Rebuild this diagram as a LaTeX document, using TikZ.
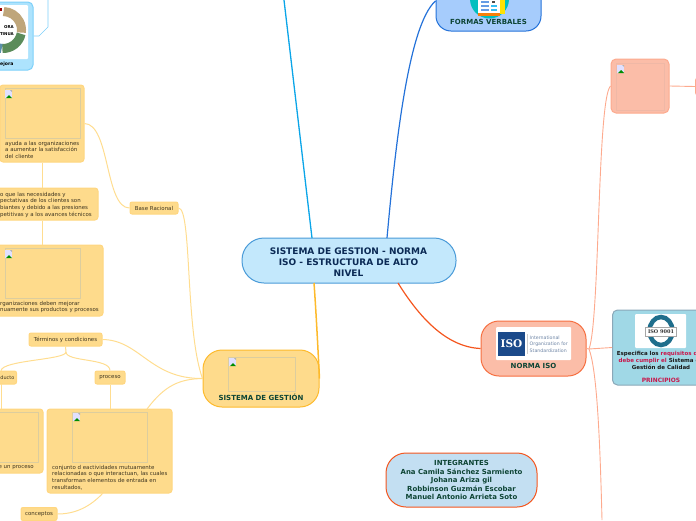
\documentclass[tikz,border=0pt]{standalone}
\usepackage{fontspec}
\setmainfont{DejaVu Sans}
\newfontfamily\logoserif{DejaVu Serif}
\usepackage{xcolor}
\usetikzlibrary{calc}
\definecolor{rootfill}{HTML}{C3E8FC}
\definecolor{rootline}{HTML}{4A9BD8}
\definecolor{navytext}{HTML}{0B2A55}
\definecolor{greentext}{HTML}{0D4434}
\definecolor{browntext}{HTML}{3D3420}
\definecolor{yellowfill}{HTML}{FEDB8C}
\definecolor{yellowline}{HTML}{FFD680}
\definecolor{yellowlink}{HTML}{FFDD90}
\definecolor{goldline}{HTML}{FDBA2C}
\definecolor{framegrey}{HTML}{DCCD9E}
\definecolor{salmonfill}{HTML}{FBBDA8}
\definecolor{salmonline}{HTML}{FDAA8E}
\definecolor{salmonframe}{HTML}{EFB8A6}
\definecolor{orangeline}{HTML}{F4561E}
\definecolor{skyfill}{HTML}{ADE3FD}
\definecolor{skyline}{HTML}{7DD0F9}
\definecolor{branchblue}{HTML}{0AA5E8}
\definecolor{verbfill}{HTML}{A6CCFC}
\definecolor{verbline}{HTML}{2472D9}
\definecolor{tealfill}{HTML}{A0D8E6}
\definecolor{tealline}{HTML}{8AA8B8}
\definecolor{crimson}{HTML}{C8174B}
\definecolor{teamfill}{HTML}{C3DFF2}
\definecolor{ringtan}{HTML}{BFA67A}
\definecolor{ringgreen}{HTML}{5B8C5A}
\definecolor{ringblue}{HTML}{5A8FAA}
\definecolor{isoblue}{HTML}{1B4A8A}
\definecolor{isogrey}{HTML}{6F86A6}
\definecolor{badgeteal}{HTML}{1F6E8C}
\tikzset{
  mapbox/.style={draw, inner sep=0pt, line width=1pt},
  yellowbox/.style={mapbox, fill=yellowfill, draw=yellowline, rounded corners=3pt},
  yellowtag/.style={yellowbox, rounded corners=2pt, text=browntext, font=\fontsize{5.45}{6.5}\selectfont},
  bodytxt/.style={inner sep=0pt, anchor=north west, align=left, text=browntext, font=\fontsize{5.45}{6.6}\selectfont},
  headtxt/.style={inner sep=0pt, align=center, text=greentext, font=\bfseries\fontsize{7}{8.4}\selectfont},
  yellowlnk/.style={yellowlink, line width=1pt},
  salmonlnk/.style={salmonline, line width=0.9pt},
  imgframe/.style={draw=framegrey, line width=0.8pt},
}
\newcommand{\brokenicon}[2]{
  \fill[white!88!blue] (#1,#2) rectangle ++(7,8);
  \fill[green!55!black] (#1+1,#2+8) -- ++(3,-3) -- ++(3,3) -- cycle;
  \fill[gray!60] (#1+5,#2) -- ++(2,0) -- ++(0,2) -- cycle;
}
\begin{document}
\begin{tikzpicture}[x=1pt, y=-1pt]
  \useasboundingbox (0,0) rectangle (696,520);
  \clip (0,0) rectangle (696,520);

  \coordinate (rootNW) at (312,238);
  \coordinate (rootNE) at (387,238);
  \coordinate (rootSW) at (314,283);
  \coordinate (rootSE) at (398,283);
  \coordinate (topfree) at (284,0);
  \coordinate (isohub) at (589,349);
  \coordinate (bottomfree) at (602,520);
  \coordinate (mejoraelbow) at (39,36);
  \coordinate (mejorabend) at (48,27);
  \coordinate (mejorafree) at (48,0);
  \coordinate (termsplit) at (66,352);
  \coordinate (procesoW) at (147,409);
  \coordinate (procesoS) at (103,493);
  \coordinate (ringcentre) at (3,30);

  % centre of the map and its four boxes
  \node[mapbox, fill=rootfill, draw=rootline, minimum width=214pt, minimum height=45pt, rounded corners=22pt] (root) at (349,260.5) {};
  \node[inner sep=0pt, align=center, text=navytext, font=\bfseries\fontsize{9}{11}\selectfont] (roottxt) at (348.5,262)
    {SISTEMA DE GESTION - NORMA\\ISO - ESTRUCTURA DE ALTO\\NIVEL};
  \node[mapbox, fill=yellowfill, draw=goldline, minimum width=116pt, minimum height=57pt, rounded corners=19pt] (sistema) at (261,378.5) {};
  \node[mapbox, fill=salmonfill, draw=orangeline!85!white, minimum width=105pt, minimum height=55pt, rounded corners=18pt] (norma) at (533.5,348.5) {};
  \node[mapbox, fill=verbfill, draw=verbline, minimum width=105pt, minimum height=60pt, rounded corners=15pt] (verbales) at (488.5,1) {};
  \node[mapbox, fill=teamfill, draw=orangeline, minimum width=151pt, minimum height=54pt, rounded corners=20pt, align=center,
    text=greentext, font=\bfseries\fontsize{6.95}{8.5}\selectfont] (team) at (461.5,480)
    {INTEGRANTES\\Ana Camila Sánchez Sarmiento\\Johana Ariza gil\\Robbinson Guzmán Escobar\\Manuel Antonio Arrieta Soto};

  \draw[orangeline, line width=1.2pt] (rootSE) .. controls (418,315) and (445,347) .. (norma.west);
  \draw[verbline, line width=1.2pt] (rootNE) .. controls (395,150) and (408,25) .. (verbales.west);
  \draw[goldline, line width=1.5pt] (rootSW) .. controls (316,310) and (318,350) .. (sistema.east);
  \draw[branchblue, line width=1.3pt] (rootNW) -- (topfree);

  % yellow side
  \node[yellowtag, minimum width=73pt, minimum height=13pt] (terminos) at (65.5,339.5) {Términos y condiciones};
  \node[yellowtag, minimum width=37pt, minimum height=13pt, anchor=east] (producto) at (17,377.5) {};
  \node[inner sep=0pt, anchor=west, text=browntext, font=\fontsize{4.9}{6.5}\selectfont] (productotxt) at (0.3,377.5) {ducto};
  \node[yellowtag, minimum width=30pt, minimum height=13pt] (proceso) at (110,377.5) {proceso};
  \node[yellowtag, minimum width=36pt, minimum height=13pt] (conceptos) at (39,514) {conceptos};
  \node[yellowtag, minimum width=48pt, minimum height=12pt] (base) at (154,208) {Base Racional};

  \node[yellowbox, minimum width=84pt, minimum height=77pt] (ayuda) at (42,123.5) {};
  \node[yellowbox, minimum width=110pt, minimum height=32pt] (debido) at (43,204) {};
  \node[yellowbox, minimum width=115pt, minimum height=71pt] (mejorar) at (45.5,280.5) {};
  \node[yellowbox, minimum width=63pt, minimum height=64pt] (unproceso) at (11.5,441) {};
  \node[yellowbox, minimum width=125pt, minimum height=84pt] (conjunto) at (109.5,451) {};

  \draw[yellowlnk] (terminos.east) .. controls (140,340) and (150,379) .. (sistema.west);
  \draw[yellowlnk] (base.east) .. controls (192,208) and (185,330) .. (sistema.west);
  \draw[yellowlnk] (procesoW) .. controls (165,385) and (180,379) .. (sistema.west);
  \draw[yellowlnk] (base.west) .. controls (105,208) and (110,124) .. (ayuda.east);
  \draw[yellowlnk] (terminos.south) -- (termsplit);
  \draw[yellowlnk] (termsplit) .. controls (66,360) and (1,360) .. (1,371);
  \draw[yellowlnk] (termsplit) .. controls (66,362) and (110,358) .. (proceso.north);
  \draw[yellowlnk] (1,384) -- (1,409);
  \draw[yellowlnk] (proceso.south) -- (110,409);
  \draw[yellowlnk] (conceptos.east) .. controls (75,514) and (90,507) .. (procesoS);
  \draw[yellowlnk] (ayuda.south) -- (debido.north -| ayuda.south);
  \draw[yellowlnk] (debido.south -| ayuda.south) -- (mejorar.north -| ayuda.south);

  \draw[imgframe] (5,88) rectangle (80,138);
  \draw[imgframe] (5,248) rectangle (80,298);
  \draw[imgframe] (-10,412) rectangle (38,462);
  \draw[imgframe] (72,412) rectangle (147,462);
  \draw[imgframe] (228,357) rectangle (295,391);
  \brokenicon{5}{90}
  \brokenicon{5}{250}
  \brokenicon{73}{413}
  \brokenicon{229}{358}

  \node[bodytxt] (ayudatxt) at (5,141) {ayuda a las organizaciones\\a aumentar la satisfacción\\del cliente};
  \node[bodytxt] (debidotxt) at (0,192) {o que las necesidades y\\pectativas de los clientes son\\biantes y debido a las presiones\\petitivas y a los avances técnicos};
  \node[bodytxt] (mejorartxt) at (0,301) {rganizaciones deben mejorar\\nuamente sus productos y procesos};
  \node[bodytxt, anchor=north east] (unprocesotxt) at (34,465) {e un proceso};
  \node[bodytxt] (conjuntotxt) at (52,465) {conjunto d eactividades mutuamente\\relacionadas o que interactuan, las cuales\\transforman elementos de entrada en\\resultados,};
  \node[headtxt] (sistematxt) at (261,397) {SISTEMA DE GESTIÓN};

  % blue side
  \node[mapbox, fill=skyfill, draw=skyline, minimum width=60pt, minimum height=68pt, rounded corners=5pt] (mejora) at (3,36) {};
  \fill[white, rounded corners=1pt] (-5,5) rectangle (28,59);
  \draw[ringtan, line width=9pt] ($(ringcentre)+(-88:18.5)$) arc (-88:8:18.5);
  \draw[ringgreen, line width=9pt] ($(ringcentre)+(12:18.5)$) arc (12:92:18.5);
  \draw[ringblue, line width=9pt] ($(ringcentre)+(94:18.5)$) arc (94:125:18.5);
  \draw[red!60!black, line width=3pt] (0,9) -- (2,9);
  \node[inner sep=0pt, anchor=east, align=right, font=\bfseries\fontsize{4}{7}\selectfont] (mejoracore) at (14,30.5) {ORA\\TINUA};
  \node[inner sep=0pt, anchor=west, font=\bfseries\fontsize{4.6}{6}\selectfont] (mejoratxt) at (0,64) {ejora};
  \draw[skyline, line width=0.7pt] (mejora.east) -- (mejoraelbow) -- (mejorabend) -- (mejorafree);

  \fill[teal!50!cyan] (489.5,-1) circle (19.5);
  \fill[yellow!85!orange] (500,-10) rectangle (505,14);
  \fill[white] (478,-5) rectangle (500,13);
  \fill[orange!85!brown] (478,13) rectangle (500,15.5);
  \draw[verbline!70!white, line width=1.2pt] (481,2) -- (489,2) (481,6) -- (489,6) (481,10) -- (489,10);
  \draw[cyan!80!white, line width=1.2pt] (491,6) -- (497,6) (491,10) -- (497,10);
  \fill[black!70] (492,1) rectangle (495,3);
  \node[headtxt] (verbalestxt) at (488.5,22) {FORMAS VERBALES};

  % salmon side
  \node[mapbox, fill=salmonfill, draw=salmonline, minimum width=58pt, minimum height=54pt, rounded corners=5pt] (upper) at (640,86) {};
  \draw[draw=salmonframe, line width=0.6pt] (616,63) rectangle (664,110);
  \brokenicon{617}{65}
  \node[mapbox, fill=salmonfill, draw=salmonline, minimum width=20pt, minimum height=18pt, rounded corners=3pt, anchor=west] (uppernext) at (695,86.5) {};
  \node[mapbox, fill=tealfill, draw=tealline, minimum width=100pt, minimum height=75pt, rounded corners=5pt, anchor=west] (iso9001) at (612,347.5) {};

  \draw[salmonlnk] (norma.east) -- (isohub) -- (iso9001.west);
  \draw[salmonlnk] (isohub) .. controls (600,320) and (597,100) .. (upper.west);
  \draw[salmonlnk] (isohub) .. controls (597,370) and (600,440) .. (bottomfree);
  \draw[salmonlnk] (upper.east) -- (uppernext.west);

  \fill[white, rounded corners=1pt] (496,327) rectangle (571,360);
  \fill[isoblue] (498,332) rectangle (525,356);
  \node[inner sep=0pt, text=white, font=\logoserif\bfseries\fontsize{10.5}{12}\selectfont] (isoword) at (511.5,344) {ISO};
  \fill[gray!40] (527,334) rectangle (528,354);
  \node[inner sep=0pt, anchor=west, align=left, text=isogrey, font=\fontsize{4.7}{6.6}\selectfont] (isoname) at (529.5,344)
    {International\\Organization for\\Standardization};
  \node[headtxt] (normatxt) at (533.5,366) {NORMA ISO};

  \fill[white, rounded corners=1pt] (635,314) rectangle (686,348);
  \draw[badgeteal, line width=4.5pt] (661,331) ellipse (11.5 and 14);
  \fill[white, draw=gray!70, line width=0.5pt] (645.5,327) rectangle (676.5,336);
  \node[inner sep=0pt, text=black!80, font=\logoserif\bfseries\fontsize{5}{6}\selectfont] (badge) at (661,331.6) {ISO 9001};
  \node[inner sep=0pt, align=center, text=black!90, font=\bfseries\fontsize{5.5}{6.6}\selectfont] (isotxt) at (661,360.5)
    {Especifica los \textcolor{crimson}{requisitos que}\\\textcolor{crimson}{debe cumplir el} Sistema de\\Gestión de Calidad};
  \node[inner sep=0pt, text=crimson, font=\bfseries\fontsize{5.9}{6.6}\selectfont] (principios) at (661,380) {PRINCIPIOS};
\end{tikzpicture}
\end{document}
